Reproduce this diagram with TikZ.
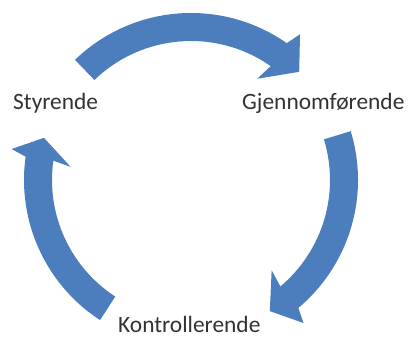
\documentclass[tikz,border=0pt]{standalone}
\usepackage{fontspec}
\setmainfont{Carlito}
\definecolor{arrowblue}{RGB}{76,126,190}
\definecolor{labelgray}{RGB}{50,50,50}
\tikzset{
  cyclearrow/.style={fill=arrowblue, draw=none},
  lbl/.style={inner sep=0pt, anchor=base west, text=labelgray, font=\fontsize{23.4pt}{28pt}\selectfont}
}
% #1 tail angle, #2 barb angle (mid), #3 tip angle, #4 barb skew (+ for inner behind)
\newcommand{\cycarrow}[4]{%
  \fill[cyclearrow]
    ([shift={(c)}]#1:167) arc[start angle=#1, end angle=#2, radius=167]
    -- ([shift={(c)}]{#2-#4}:182)
    -- ([shift={(c)}]#3:153)
    -- ([shift={(c)}]{#2+#4}:121)
    -- ([shift={(c)}]#2:139)
    arc[start angle=#2, end angle=#1, radius=139]
    -- cycle;}
\begin{document}
\begin{tikzpicture}[x=1pt,y=1pt]
\useasboundingbox (0,0) rectangle (409,339);
\coordinate (c) at (191,159);
\cycarrow{134}{55}{45}{1.8}
\cycarrow{17}{-50}{-59}{1.8}
\cycarrow{237}{172}{164}{1.8}
\node[lbl] (sty) at (13,229) {Styrende};
\node[lbl] (gjen) at (242,229) {Gjennomførende};
\node[lbl] (kont) at (118,6) {Kontrollerende};
\end{tikzpicture}
\end{document}
